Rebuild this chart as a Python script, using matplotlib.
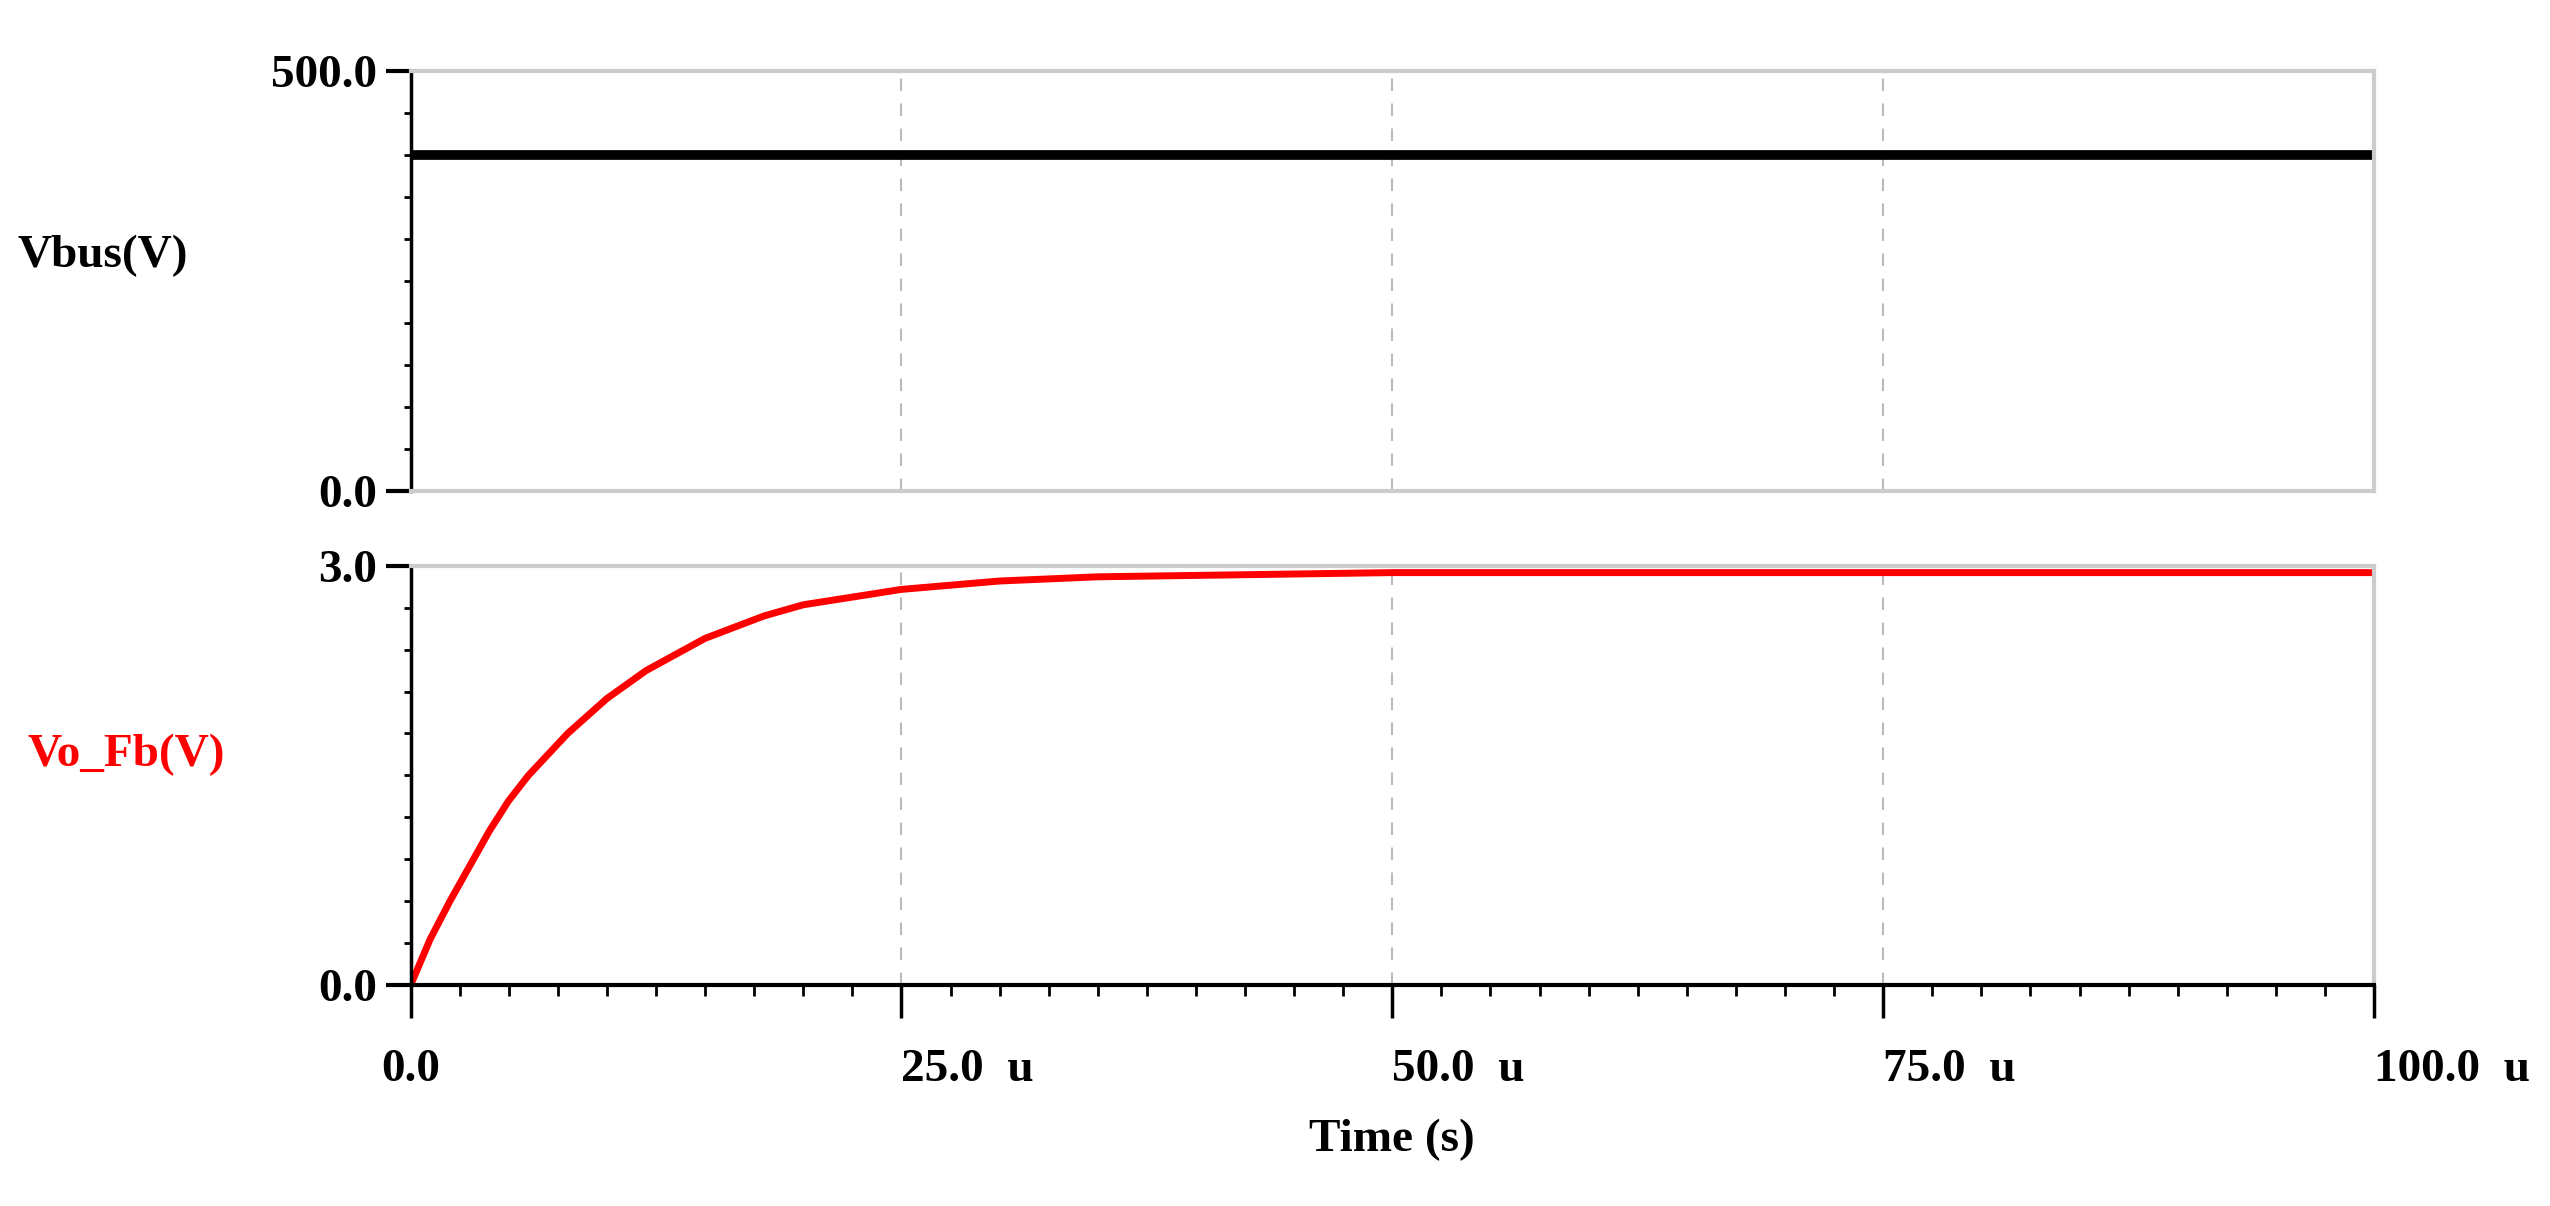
import matplotlib.pyplot as plt
from matplotlib.ticker import MultipleLocator

# time in microseconds
t_bus = [0, 100]
vbus = [400, 400]

t_fb = [0, 1, 2, 3, 4, 5, 6, 8, 10, 12, 15, 18, 20, 25, 30, 35, 40, 45, 50, 60, 70, 80, 90, 100]
vo_fb = [0, 0.33, 0.6, 0.85, 1.1, 1.32, 1.5, 1.8, 2.05, 2.25, 2.48, 2.64, 2.72, 2.83, 2.89, 2.92, 2.93, 2.94, 2.95, 2.95, 2.95, 2.95, 2.95, 2.95]

xticks = [0, 25, 50, 75, 100]
xticklabels = ['0.0', '25.0  u', '50.0  u', '75.0  u', '100.0  u']

plt.rcParams['font.family'] = ['Liberation Serif', 'DejaVu Serif']
plt.rcParams['font.weight'] = 'bold'

fig = plt.figure(figsize=(25.5, 12.06), dpi=100)
ax1 = fig.add_axes([0.161, 0.593, 0.77, 0.348])
ax2 = fig.add_axes([0.161, 0.183, 0.77, 0.348])

ax1.plot(t_bus, vbus, color='black', lw=7)
ax2.plot(t_fb, vo_fb, color='red', lw=5)

for ax, ymax in ((ax1, 500), (ax2, 3)):
    ax.set_xlim(0, 100)
    ax.set_ylim(0, ymax)
    ax.set_yticks([0, ymax])
    ax.set_yticklabels(['0.0', f'{ymax:.1f}'])
    ax.yaxis.set_minor_locator(MultipleLocator(ymax / 10))
    ax.set_xticks(xticks)
    ax.xaxis.set_minor_locator(MultipleLocator(2.5))
    ax.grid(axis='x', color='#bbbbbb', ls=(0, (6, 6)), lw=1.5)
    for s in ('top', 'right', 'bottom'):
        ax.spines[s].set_color('#cccccc')
        ax.spines[s].set_linewidth(3)
    ax.spines['left'].set_linewidth(2.5)
    ax.tick_params(axis='y', which='major', length=18, width=3, labelsize=34, pad=6)
    ax.tick_params(axis='y', which='minor', length=5, width=2)
    ax.tick_params(axis='x', which='major', length=24, width=2.5, labelsize=34, pad=22)
    ax.tick_params(axis='x', which='minor', length=8, width=2)

ax1.tick_params(axis='x', which='both', bottom=False, labelbottom=False)
ax2.spines['bottom'].set_color('black')
ax2.set_xticklabels(xticklabels)
for lbl in ax2.get_xticklabels()[1:]:
    lbl.set_horizontalalignment('left')
    lbl.set_x(0)

ax1.text(-0.2, 0.56, 'Vbus(V)', transform=ax1.transAxes, fontsize=34,
         fontweight='bold', va='center', ha='left')
ax2.text(-0.195, 0.55, 'Vo_Fb(V)', transform=ax2.transAxes, fontsize=34,
         fontweight='bold', va='center', ha='left', color='red')
ax2.set_xlabel('Time (s)', fontsize=34, fontweight='bold', labelpad=20)

fig.savefig('out.png', dpi=100)
